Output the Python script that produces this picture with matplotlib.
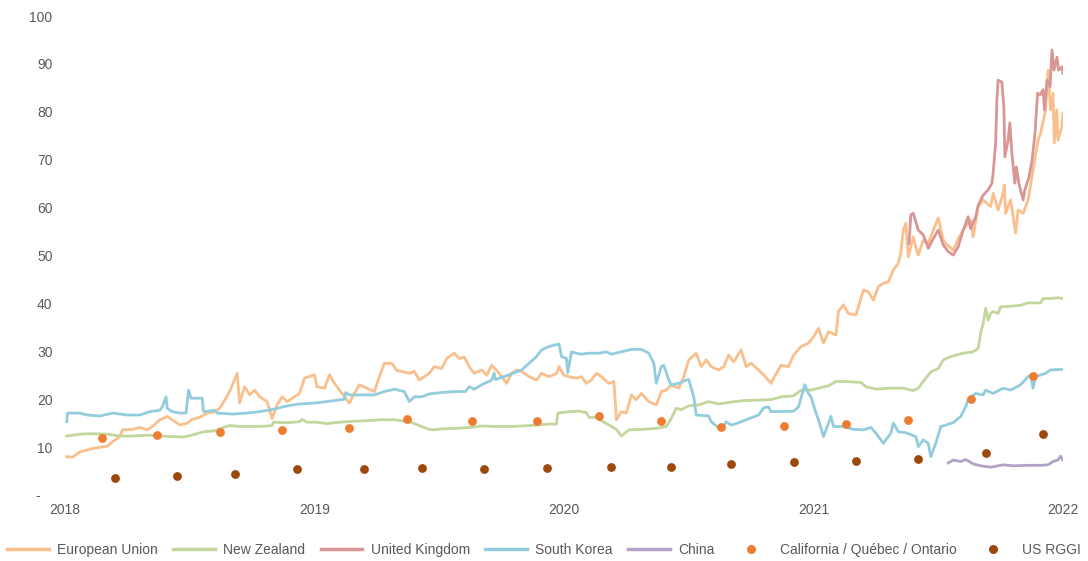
import matplotlib
matplotlib.use("Agg")
import matplotlib.pyplot as plt
from matplotlib.lines import Line2D

plt.rcParams['font.family'] = ['Liberation Sans', 'DejaVu Sans']

# ---------------- data (decimal years, price) ----------------
eu_t = [2018.007, 2018.03, 2018.06, 2018.11, 2018.17, 2018.19, 2018.22, 2018.23, 2018.27, 2018.30,
        2018.33, 2018.35, 2018.38, 2018.41, 2018.43, 2018.46, 2018.49, 2018.51, 2018.54, 2018.57,
        2018.60, 2018.62, 2018.64, 2018.66, 2018.675, 2018.69, 2018.70, 2018.72, 2018.74, 2018.76,
        2018.78, 2018.81, 2018.83, 2018.85, 2018.87, 2018.89, 2018.92, 2018.94, 2018.96, 2019.00,
        2019.01, 2019.04, 2019.06, 2019.08, 2019.10, 2019.12, 2019.14, 2019.16, 2019.18, 2019.21,
        2019.24, 2019.26, 2019.28, 2019.31, 2019.33, 2019.35, 2019.38, 2019.40, 2019.42, 2019.46,
        2019.48, 2019.51, 2019.53, 2019.56, 2019.58, 2019.60, 2019.62, 2019.64, 2019.67, 2019.69,
        2019.71, 2019.74, 2019.77, 2019.79, 2019.81, 2019.83, 2019.86, 2019.89, 2019.91, 2019.94,
        2019.97, 2019.98, 2020.00, 2020.02, 2020.05, 2020.07, 2020.09, 2020.11, 2020.13, 2020.15,
        2020.18, 2020.20, 2020.21, 2020.23, 2020.25, 2020.27, 2020.29, 2020.31, 2020.34, 2020.37,
        2020.39, 2020.41, 2020.43, 2020.46, 2020.48, 2020.50, 2020.53, 2020.55, 2020.57, 2020.59,
        2020.62, 2020.64, 2020.66, 2020.68, 2020.71, 2020.73, 2020.75, 2020.78, 2020.80, 2020.83,
        2020.84, 2020.87, 2020.90, 2020.92, 2020.95, 2020.98, 2021.00, 2021.02, 2021.04, 2021.06,
        2021.09, 2021.10, 2021.12, 2021.14, 2021.17, 2021.18, 2021.20, 2021.22, 2021.24, 2021.26,
        2021.28, 2021.30, 2021.32, 2021.34, 2021.35, 2021.36, 2021.37, 2021.38, 2021.40, 2021.41,
        2021.42, 2021.44, 2021.46, 2021.48, 2021.50, 2021.52, 2021.53, 2021.56, 2021.58, 2021.60,
        2021.63, 2021.64, 2021.66, 2021.68, 2021.71, 2021.72, 2021.74, 2021.76, 2021.765, 2021.77,
        2021.79, 2021.81, 2021.82, 2021.84, 2021.86, 2021.88, 2021.90, 2021.91, 2021.93, 2021.94,
        2021.95, 2021.96, 2021.965, 2021.975, 2021.98, 2021.995, 2022.0]
eu_v = [8.0, 7.9, 9.0, 9.7, 10.2, 11.1, 12.2, 13.6, 13.7, 14.1,
        13.6, 14.3, 15.7, 16.4, 15.7, 14.6, 15.0, 15.8, 16.2, 17.1,
        17.4, 18.1, 19.8, 21.6, 23.5, 25.4, 19.2, 22.6, 20.9, 21.9,
        20.5, 19.5, 16.0, 18.8, 20.5, 19.5, 20.5, 21.2, 24.4, 25.1,
        22.6, 22.3, 25.1, 23.3, 21.9, 20.5, 19.2, 21.2, 23.0, 22.3,
        21.6, 24.7, 27.5, 27.5, 26.0, 25.8, 25.4, 25.8, 24.0, 25.4,
        26.8, 26.4, 28.5, 29.6, 28.5, 28.8, 26.8, 25.4, 26.1, 25.0,
        27.1, 25.4, 23.3, 25.4, 26.1, 25.8, 24.7, 24.0, 25.4, 24.7,
        25.4, 26.8, 25.0, 24.7, 24.4, 24.7, 23.3, 24.0, 25.4, 24.7,
        23.3, 23.7, 15.7, 17.4, 17.1, 20.9, 19.9, 21.2, 19.5, 18.8,
        21.6, 21.9, 23.0, 22.3, 24.7, 28.2, 29.6, 26.8, 28.2, 26.8,
        26.1, 26.8, 29.2, 27.8, 30.3, 26.8, 27.5, 26.1, 25.1, 23.3,
        24.4, 27.1, 26.8, 29.2, 31.0, 31.7, 33.0, 34.8, 31.7, 34.1,
        33.4, 38.3, 39.7, 37.9, 37.6, 39.3, 42.8, 42.4, 40.7, 43.5,
        44.2, 44.5, 47.0, 48.4, 50.5, 55.3, 56.7, 49.7, 53.9, 51.8,
        50.1, 53.2, 52.5, 55.3, 57.8, 53.2, 52.5, 51.1, 53.5, 55.3,
        57.4, 53.9, 60.2, 61.6, 60.2, 63.0, 59.5, 63.0, 64.7, 58.8,
        61.6, 54.7, 59.5, 58.8, 61.6, 67.8, 74.1, 75.5, 80.4, 88.7,
        80.4, 83.9, 73.5, 80.4, 74.1, 76.8, 79.7]

nz_t = [2018.007, 2018.06, 2018.11, 2018.17, 2018.22, 2018.27, 2018.33, 2018.38, 2018.43, 2018.475,
        2018.51, 2018.555, 2018.60, 2018.635, 2018.66, 2018.70, 2018.76, 2018.81, 2018.83, 2018.835,
        2018.89, 2018.94, 2018.95, 2018.97, 2019.01, 2019.05, 2019.10, 2019.16, 2019.21, 2019.26,
        2019.32, 2019.38, 2019.43, 2019.46, 2019.48, 2019.51, 2019.565, 2019.62, 2019.67, 2019.725,
        2019.78, 2019.83, 2019.89, 2019.94, 2019.97, 2019.975, 2020.02, 2020.06, 2020.09, 2020.10,
        2020.13, 2020.15, 2020.18, 2020.21, 2020.23, 2020.26, 2020.31, 2020.37, 2020.41, 2020.43,
        2020.45, 2020.47, 2020.50, 2020.54, 2020.58, 2020.62, 2020.67, 2020.72, 2020.77, 2020.83,
        2020.87, 2020.92, 2020.95, 2020.99, 2021.02, 2021.06, 2021.09, 2021.13, 2021.19, 2021.21,
        2021.25, 2021.31, 2021.36, 2021.40, 2021.42, 2021.44, 2021.47, 2021.50, 2021.52, 2021.55,
        2021.60, 2021.64, 2021.66, 2021.67, 2021.68, 2021.69, 2021.70, 2021.71, 2021.72, 2021.74,
        2021.75, 2021.79, 2021.83, 2021.86, 2021.91, 2021.92, 2021.95, 2021.98, 2022.0]
nz_v = [12.3, 12.7, 12.8, 12.7, 12.3, 12.3, 12.5, 12.3, 12.2, 12.1,
        12.5, 13.2, 13.4, 14.1, 14.5, 14.3, 14.3, 14.4, 14.5, 15.2,
        15.1, 15.3, 15.8, 15.2, 15.2, 14.9, 15.2, 15.4, 15.5, 15.7,
        15.7, 15.3, 14.3, 13.7, 13.6, 13.8, 13.9, 14.1, 14.4, 14.3,
        14.3, 14.4, 14.6, 14.8, 14.8, 17.1, 17.4, 17.5, 17.2, 16.2,
        16.2, 15.5, 14.6, 13.7, 12.3, 13.6, 13.7, 13.9, 14.3, 16.0,
        18.1, 17.8, 18.6, 18.8, 19.5, 19.0, 19.4, 19.7, 19.8, 19.9,
        20.5, 20.7, 21.9, 21.9, 22.3, 22.8, 23.7, 23.7, 23.5, 22.6,
        22.1, 22.3, 22.3, 21.8, 22.3, 23.7, 25.7, 26.4, 28.2, 28.9,
        29.6, 29.9, 30.6, 33.8, 35.8, 39.0, 36.5, 37.9, 38.3, 37.9,
        39.3, 39.4, 39.6, 40.1, 40.1, 41.0, 41.0, 41.2, 41.0]

uk_t = [2021.383, 2021.39, 2021.40, 2021.42, 2021.44, 2021.46, 2021.48, 2021.50, 2021.52, 2021.54,
        2021.56, 2021.58, 2021.60, 2021.62, 2021.63, 2021.65, 2021.66, 2021.68, 2021.70, 2021.715,
        2021.72, 2021.73, 2021.735, 2021.74, 2021.755, 2021.763, 2021.767, 2021.78, 2021.787, 2021.795,
        2021.807, 2021.813, 2021.823, 2021.84, 2021.847, 2021.864, 2021.876, 2021.888, 2021.898, 2021.908,
        2021.92, 2021.926, 2021.936, 2021.948, 2021.956, 2021.964, 2021.976, 2021.982, 2021.996, 2022.0]
uk_v = [52.5, 58.5, 58.8, 55.3, 54.3, 51.5, 53.5, 55.3, 52.2, 50.8,
        50.1, 51.8, 55.3, 58.1, 55.6, 58.1, 60.5, 62.6, 63.7, 65.1,
        67.2, 73.5, 82.5, 86.6, 86.2, 81.0, 70.6, 74.1, 77.7, 71.4,
        65.1, 68.5, 65.1, 61.6, 63.7, 66.4, 69.9, 75.6, 83.9, 83.5,
        84.6, 80.4, 86.6, 85.2, 92.9, 88.7, 91.4, 88.7, 89.4, 88.0]

sk_t = [2018.007, 2018.01, 2018.06, 2018.09, 2018.14, 2018.19, 2018.25, 2018.30, 2018.34, 2018.38,
        2018.39, 2018.405, 2018.41, 2018.43, 2018.46, 2018.485, 2018.495, 2018.505, 2018.55, 2018.555,
        2018.60, 2018.61, 2018.675, 2018.73, 2018.78, 2018.835, 2018.89, 2018.94, 2019.00, 2019.05,
        2019.12, 2019.125, 2019.14, 2019.18, 2019.24, 2019.28, 2019.32, 2019.36, 2019.38, 2019.40,
        2019.43, 2019.46, 2019.51, 2019.565, 2019.605, 2019.62, 2019.64, 2019.67, 2019.71, 2019.72,
        2019.725, 2019.78, 2019.83, 2019.86, 2019.89, 2019.91, 2019.94, 2019.96, 2019.98, 2019.99,
        2020.01, 2020.015, 2020.03, 2020.05, 2020.07, 2020.10, 2020.14, 2020.17, 2020.19, 2020.23,
        2020.27, 2020.31, 2020.34, 2020.36, 2020.37, 2020.39, 2020.40, 2020.42, 2020.43, 2020.46,
        2020.49, 2020.50, 2020.52, 2020.53, 2020.58, 2020.59, 2020.63, 2020.65, 2020.67, 2020.69,
        2020.73, 2020.78, 2020.80, 2020.82, 2020.83, 2020.92, 2020.94, 2020.955, 2020.965, 2020.98,
        2020.99, 2021.01, 2021.02, 2021.04, 2021.06, 2021.07, 2021.08, 2021.12, 2021.16, 2021.20,
        2021.23, 2021.25, 2021.28, 2021.31, 2021.32, 2021.34, 2021.37, 2021.41, 2021.42, 2021.44,
        2021.46, 2021.47, 2021.49, 2021.51, 2021.53, 2021.56, 2021.59, 2021.61, 2021.62, 2021.65,
        2021.68, 2021.69, 2021.72, 2021.76, 2021.79, 2021.83, 2021.86, 2021.87, 2021.88, 2021.89,
        2021.93, 2021.95, 2021.98, 2022.0]
sk_v = [15.3, 17.1, 17.1, 16.7, 16.5, 17.1, 16.7, 16.7, 17.4, 17.7,
        18.4, 20.5, 18.1, 17.4, 17.1, 17.1, 21.9, 20.2, 20.2, 17.4,
        17.7, 17.1, 16.9, 17.1, 17.4, 17.9, 18.6, 19.0, 19.2, 19.5,
        20.0, 21.4, 20.9, 20.9, 20.9, 21.6, 22.1, 21.6, 19.5, 20.5,
        20.5, 21.1, 21.4, 21.6, 21.6, 22.6, 22.1, 23.0, 24.0, 25.4,
        24.1, 25.1, 26.1, 27.5, 28.9, 30.3, 31.0, 31.3, 31.5, 28.9,
        28.5, 25.5, 29.9, 29.6, 29.4, 29.6, 29.6, 29.9, 29.4, 29.9,
        30.4, 30.4, 29.6, 27.5, 23.3, 26.8, 27.1, 24.0, 23.0, 23.3,
        24.0, 24.1, 20.5, 16.7, 16.5, 15.3, 13.6, 15.3, 14.6, 14.9,
        15.7, 16.7, 18.2, 18.4, 17.4, 17.5, 18.4, 21.2, 23.0, 21.2,
        20.5, 17.1, 15.7, 12.2, 15.0, 16.4, 14.3, 14.3, 13.7, 13.6,
        14.1, 12.9, 10.8, 12.9, 15.0, 13.2, 13.0, 12.2, 10.1, 11.5,
        10.8, 8.0, 10.8, 14.3, 14.6, 15.1, 16.4, 18.4, 20.0, 21.2,
        20.9, 21.9, 21.2, 22.3, 21.9, 23.0, 24.7, 25.0, 22.3, 24.7,
        25.4, 26.1, 26.2, 26.2]

cn_t = [2021.54, 2021.56, 2021.59, 2021.61, 2021.64, 2021.67, 2021.71, 2021.74, 2021.76, 2021.80,
        2021.86, 2021.91, 2021.94, 2021.96, 2021.98, 2021.99, 2022.0]
cn_v = [6.7, 7.3, 7.0, 7.4, 6.5, 6.1, 5.8, 6.1, 6.3, 6.1,
        6.2, 6.2, 6.3, 7.0, 7.3, 8.1, 7.3]

ca_t = [2018.15, 2018.37, 2018.62, 2018.87, 2019.14, 2019.37, 2019.63, 2019.89,
        2020.14, 2020.39, 2020.63, 2020.88, 2021.13, 2021.38, 2021.63, 2021.88]
ca_v = [12.0, 12.5, 13.2, 13.6, 14.0, 15.8, 15.5, 15.5,
        16.5, 15.4, 14.3, 14.4, 14.8, 15.7, 20.0, 24.8]

rggi_t = [2018.20, 2018.45, 2018.68, 2018.93, 2019.20, 2019.43, 2019.68, 2019.93,
          2020.19, 2020.43, 2020.67, 2020.92, 2021.17, 2021.42, 2021.69, 2021.92]
rggi_v = [3.6, 4.0, 4.4, 5.4, 5.4, 5.7, 5.4, 5.7,
          5.8, 5.8, 6.5, 6.8, 7.2, 7.5, 8.8, 12.7]

x_ticks = [2018, 2019, 2020, 2021, 2022]
x_labels = ['2018', '2019', '2020', '2021', '2022']
y_ticks = [0, 10, 20, 30, 40, 50, 60, 70, 80, 90, 100]
y_labels = ['-   ', '10', '20', '30', '40', '50', '60', '70', '80', '90', '100']

# ---------------- plot ----------------
TXT = '#595959'
fig = plt.figure(figsize=(10.88, 5.61), dpi=100)
ax = fig.add_axes([65 / 1088, 66 / 561, 998 / 1088, 479 / 561])

lw = 2.0
ax.plot(eu_t, eu_v, color='#F9BF8D', lw=lw, solid_joinstyle='round', label='European Union')
ax.plot(nz_t, nz_v, color='#C3D69B', lw=lw, solid_joinstyle='round', label='New Zealand')
ax.plot(uk_t, uk_v, color='#D99694', lw=lw, solid_joinstyle='round', label='United Kingdom')
ax.plot(sk_t, sk_v, color='#93CDDD', lw=lw, solid_joinstyle='round', label='South Korea')
ax.plot(cn_t, cn_v, color='#B3A2C7', lw=lw, solid_joinstyle='round', label='China')
ax.scatter(ca_t, ca_v, s=40, color='#ED7D31', zorder=5, linewidths=0)
ax.scatter(rggi_t, rggi_v, s=40, color='#9E480E', zorder=5, linewidths=0)

ax.set_xlim(2018, 2022)
ax.set_ylim(0, 100)
ax.set_xticks(x_ticks)
ax.set_xticklabels(x_labels)
ax.set_yticks(y_ticks)
ax.set_yticklabels(y_labels)
ax.tick_params(axis='both', length=0, labelsize=10, labelcolor=TXT)
ax.tick_params(axis='x', pad=6)
ax.tick_params(axis='y', pad=9)
for s in ax.spines.values():
    s.set_visible(False)

handles = [
    Line2D([], [], color='#F9BF8D', lw=2.5),
    Line2D([], [], color='#C3D69B', lw=2.5),
    Line2D([], [], color='#D99694', lw=2.5),
    Line2D([], [], color='#93CDDD', lw=2.5),
    Line2D([], [], color='#B3A2C7', lw=2.5),
    Line2D([], [], color='#ED7D31', marker='o', ls='none', markersize=6.5, markeredgewidth=0),
    Line2D([], [], color='#9E480E', marker='o', ls='none', markersize=6.5, markeredgewidth=0),
]
labels = ['European Union', 'New Zealand', 'United Kingdom', 'South Korea', 'China',
          'California / Québec / Ontario', 'US RGGI']
leg = fig.legend(handles, labels, loc='center', bbox_to_anchor=(0.5, 1 - 550 / 561), ncol=7,
                 frameon=False, fontsize=10, handlelength=3.0, handletextpad=0.6,
                 columnspacing=1.1, labelcolor=TXT)

fig.savefig('out.png', dpi=100)
